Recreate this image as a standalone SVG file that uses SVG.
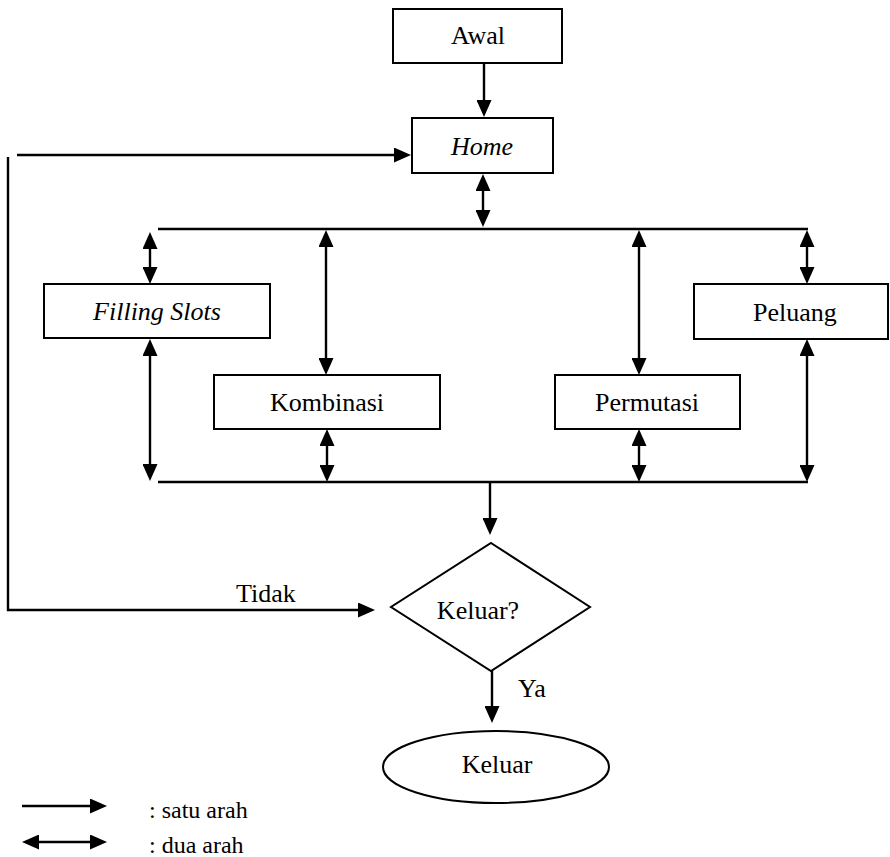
<svg xmlns="http://www.w3.org/2000/svg" width="890" height="857" viewBox="0 0 890 857">
<style>
.box{fill:#fff;stroke:#000;stroke-width:2}
.ln{fill:none;stroke:#000;stroke-width:2.4}
.a1{marker-end:url(#ah)}
.a2{marker-start:url(#ah);marker-end:url(#ah)}
.t{font-family:'Liberation Serif','Times New Roman',serif;font-size:26px;fill:#000}
.c{text-anchor:middle}
.i{font-style:italic}
.lg{font-size:24px}
</style>
<defs>
<marker id="ah" markerUnits="userSpaceOnUse" markerWidth="17" markerHeight="15" refX="8" refY="7.5" orient="auto-start-reverse" viewBox="0 0 17 15">
<path d="M0,0 L17,7.5 L0,15 z" fill="#000"/>
</marker>
</defs>
<g id="connectors">
<path class="ln a1" d="M484,63 V108"/>
<path class="ln a1" d="M17,155 H402"/>
<path class="ln a1" d="M8,157 V610 H366"/>
<path class="ln a2" d="M483,183 V218"/>
<path class="ln" d="M158,229 H808"/>
<path class="ln" d="M158,482 H808"/>
<path class="ln a2" d="M150,241 V275"/>
<path class="ln a2" d="M150,348 V472"/>
<path class="ln a2" d="M326,239 V366"/>
<path class="ln a2" d="M327,438 V473"/>
<path class="ln a2" d="M639,239 V366"/>
<path class="ln a2" d="M639,438 V473"/>
<path class="ln a2" d="M807,239 V275"/>
<path class="ln a2" d="M807,348 V473"/>
<path class="ln a1" d="M490,482 V526"/>
<path class="ln a1" d="M492,671 V714"/>
</g>
<g id="awal"><rect class="box" x="393" y="9" width="169" height="54"/><text class="t c" x="478" y="44">Awal</text></g>
<g id="home"><rect class="box" x="412" y="118" width="141" height="55"/><text class="t c i" x="482" y="155">Home</text></g>
<g id="filling"><rect class="box" x="44" y="284" width="226" height="54"/><text class="t c i" x="157" y="320">Filling Slots</text></g>
<g id="kombinasi"><rect class="box" x="214" y="375" width="226" height="54"/><text class="t c" x="327" y="411">Kombinasi</text></g>
<g id="permutasi"><rect class="box" x="555" y="375" width="185" height="54"/><text class="t c" x="647" y="411">Permutasi</text></g>
<g id="peluang"><rect class="box" x="694" y="284" width="194" height="55"/><text class="t c" x="795" y="321">Peluang</text></g>
<g id="keluar-q"><polygon class="box" points="491,543 590,607 491,671 391,607"/><text class="t c" x="478" y="619">Keluar?</text></g>
<g id="keluar"><ellipse class="box" cx="496" cy="767" rx="113" ry="36"/><text class="t c" x="497" y="773">Keluar</text></g>
<g id="labels">
<text class="t" x="236" y="602">Tidak</text>
<text class="t" x="518" y="697">Ya</text>
</g>
<g id="legend">
<path class="ln a1" d="M22,806 H98"/>
<path class="ln a2" d="M31,842 H98"/>
<text class="t lg" x="149" y="818">: satu arah</text>
<text class="t lg" x="149" y="853">: dua arah</text>
</g>
</svg>
